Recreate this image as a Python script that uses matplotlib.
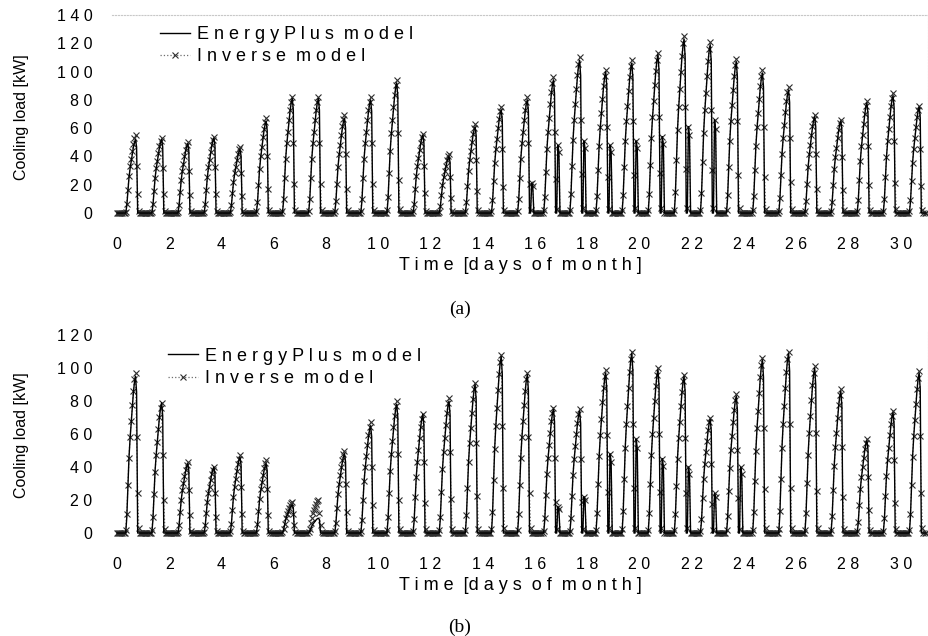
import numpy as np
import matplotlib.pyplot as plt

plt.rcParams['font.family'] = ['Liberation Sans', 'DejaVu Sans']

days = np.arange(31)
hours = np.arange(24)

# daily peak cooling load [kW]
ep_peak_a = [52, 52, 49, 53, 45, 65, 81, 81, 67, 80, 92, 55, 40, 61, 73,
             80, 94, 108, 100, 106, 112, 123, 119, 107, 99, 87, 68, 65, 78, 83, 75]
inv_peak_a = [55, 53, 50, 54, 47, 67, 82, 82, 69, 82, 94, 56, 42, 63, 75,
              82, 96, 110, 101, 108, 113, 125, 121, 109, 101, 89, 69, 66, 79, 85, 76]
late_a = [0, 0, 0, 0, 0, 0, 0, 0, 0, 0, 0, 0, 0, 0, 0,
          21, 48, 51, 48, 51, 54, 61, 66, 0, 0, 0, 0, 0, 0, 0, 0]

ep_peak_b = [95, 79, 42, 40, 46, 42, 17, 9, 48, 65, 78, 72, 80, 90, 107,
             96, 75, 74, 97, 109, 99, 95, 69, 83, 105, 109, 100, 86, 56, 73, 97]
inv_peak_b = [97, 79, 43, 40, 47, 44, 19, 20, 50, 67, 80, 72, 82, 91, 108,
              97, 76, 75, 99, 110, 100, 96, 70, 84, 106, 110, 101, 87, 57, 74, 98]
late_b = [0, 0, 0, 0, 0, 0, 0, 0, 0, 0, 0, 0, 0, 0, 0,
          0, 16, 22, 48, 57, 45, 40, 24, 40, 0, 0, 0, 0, 0, 0, 0]

# hourly shape of a day as fraction of the daily peak
ep_shape = [0, 0, 0, 0, 0, 0, 0, 0, 0, 0.10, 0.30, 0.48, 0.60, 0.70, 0.80, 0.89,
            0.96, 1.00, 0.90, 0, 0, 0, 0, 0]
inv_shape = [0, 0, 0, 0, 0, 0, 0, 0, 0.02, 0.12, 0.30, 0.47, 0.60, 0.70, 0.80, 0.89,
             0.96, 1.00, 0.60, 0.25, 0.03, 0, 0, 0]
late_shape = [0, 0, 0, 0, 0, 0, 0, 0, 0, 0, 0, 0, 0, 0, 0, 0,
              0, 0, 0, 0, 0, 1.00, 0.90, 0]

t = (days[:, None] + hours[None, :] / 24.0).ravel()


def hourly(peak, late, shape):
    return (np.outer(peak, shape) + np.outer(late, late_shape)).ravel()


fig = plt.figure(figsize=(9.29, 6.36), dpi=100)
ax_a = fig.add_axes([0.1206, 0.6561, 0.8784, 0.3203])
ax_b = fig.add_axes([0.1206, 0.1528, 0.8784, 0.3256])

panels = [
    (ax_a, ep_peak_a, inv_peak_a, late_a, (-4, 140), 20, (0.0588, 0.946), '(a)', 309),
    (ax_b, ep_peak_b, inv_peak_b, late_b, (-3.5, 122), 20, (0.0686, 0.923), '(b)', 627),
]

for ax, ep_pk, inv_pk, late, ylim, ystep, leg_pos, cap, cap_y in panels:
    inv = hourly(inv_pk, late, inv_shape)
    ep = hourly(ep_pk, late, ep_shape)
    h_inv, = ax.plot(t, inv, color='#6e6e6e', lw=0.9, ls=':', marker='x', ms=5,
                     mew=0.8, mec='#2e2e2e', zorder=2)
    h_ep, = ax.plot(t, ep, color='black', lw=1.0, zorder=3)

    ax.set_xlim(-0.19, 31.05)
    ax.set_ylim(*ylim)
    ax.set_xticks(np.arange(0, 31, 2))
    ax.set_yticks(np.arange(0, ylim[1] + 1, ystep))
    ax.set_xticklabels([' '.join(str(v)) for v in range(0, 31, 2)])
    ax.set_yticklabels([' '.join(str(v)) for v in range(0, int(ylim[1]) + 1, ystep)])
    ax.tick_params(length=0, labelsize=11.5)
    ax.tick_params(axis='x', pad=13)
    ax.tick_params(axis='y', pad=14)
    for side in ['left', 'bottom']:
        ax.spines[side].set_visible(False)
    for side in ['top', 'right']:
        ax.spines[side].set_color('#c8c8c8')
        ax.spines[side].set_linestyle(':')
        ax.spines[side].set_linewidth(0.8)
    if ax is ax_b:
        ax.spines['top'].set_visible(False)

    ax.set_xlabel('T i m e  [d a y s  o f  m o n t h ]', fontsize=13, labelpad=4)
    ax.set_ylabel('Cooling load [kW]', fontsize=11.5, labelpad=20)

    ax.legend([h_ep, h_inv], ['E n e r g y P l u s  m o d e l', 'I n v e r s e  m o d e l'],
              loc='upper left', bbox_to_anchor=leg_pos, frameon=False, fontsize=13,
              handlelength=1.67, handletextpad=0.4, labelspacing=0.3,
              borderpad=0, borderaxespad=0, numpoints=1)

    fig.text(460 / 929, 1 - cap_y / 636, cap, ha='center', va='center',
             fontsize=14, family='Liberation Serif')

fig.savefig('out.png', dpi=100)
